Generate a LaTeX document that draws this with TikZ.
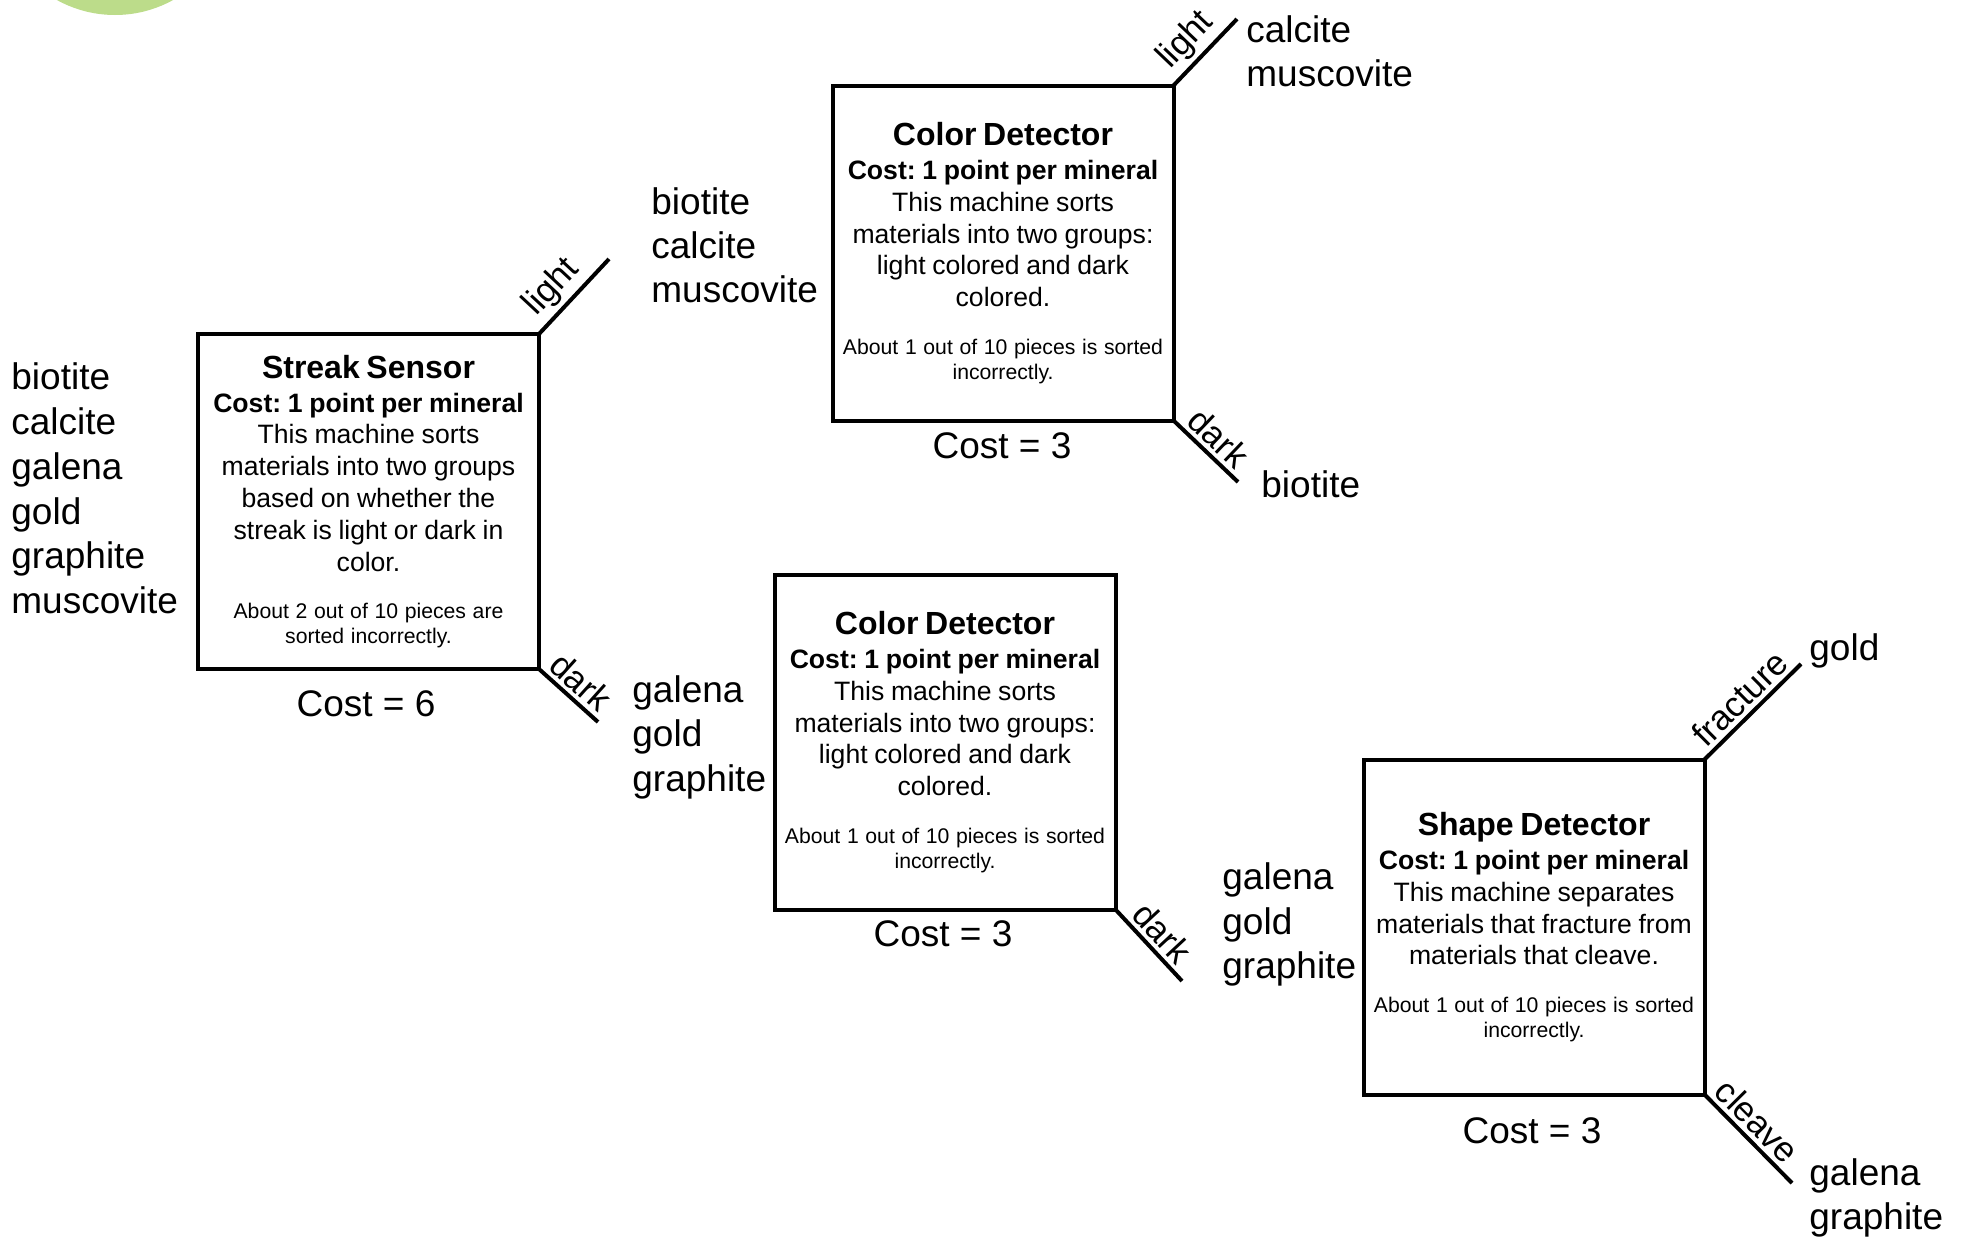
\documentclass[tikz,border=0pt]{standalone}
\usepackage{fontspec}
\setmainfont{Liberation Sans}
\frenchspacing
\definecolor{leaf}{RGB}{188,220,138}
\newcommand\mtitle{\fontsize{16}{19}\selectfont\bfseries}
\newcommand\mcost{\fontsize{13.3}{17}\selectfont\bfseries}
\newcommand\mbody{\fontsize{13.3}{15.9}\selectfont\mdseries}
\newcommand\msmall{\fontsize{10.6}{12.5}\selectfont\mdseries}
\begin{document}
\begin{tikzpicture}[x=0.5pt,y=-0.5pt,
  machine/.style={draw, line width=2pt, minimum width=170.5pt, minimum height=167.5pt,
    inner sep=0pt, outer sep=0pt, text width=170.5pt, align=center},
  branch/.style={line width=2pt},
  lbl/.style={sloped, above, inner sep=2pt, font=\fontsize{17.5}{20}\selectfont},
  item/.style={anchor=base west, inner sep=0pt, font=\fontsize{18.5}{22}\selectfont},
  costlbl/.style={anchor=base, inner sep=0pt, font=\fontsize{18.5}{22}\selectfont}]
\path[use as bounding box] (0,0) rectangle (1961,1237);
\fill[leaf] (115,-105) circle[radius=60pt];

% machines
\node[machine] (streak) at (368.5,501.5) {{\mtitle Streak Sensor\par}{\mcost Cost: 1 point per mineral\par}{\mbody This machine sorts\\ materials into two groups\\ based on whether the\\ streak is light or dark in\\ color.\par}\vspace{11.25pt}{\msmall About 2 out of 10 pieces are\\ sorted incorrectly.\par}};
\node[machine] (colortop) at (1003,253) {{\mtitle Color Detector\par}{\mcost Cost: 1 point per mineral\par}{\mbody This machine sorts\\ materials into two groups:\\ light colored and dark\\ colored.\par}\vspace{11.25pt}{\msmall About 1 out of 10 pieces is sorted\\ incorrectly.\par}};
\node[machine] (colormid) at (945,742) {{\mtitle Color Detector\par}{\mcost Cost: 1 point per mineral\par}{\mbody This machine sorts\\ materials into two groups:\\ light colored and dark\\ colored.\par}\vspace{11.25pt}{\msmall About 1 out of 10 pieces is sorted\\ incorrectly.\par}};
\node[machine] (shape) at (1534,927) {{\mtitle Shape Detector\par}{\mcost Cost: 1 point per mineral\par}{\mbody This machine separates\\ materials that fracture from\\ materials that cleave.\par}\vspace{11.25pt}{\msmall About 1 out of 10 pieces is sorted\\ incorrectly.\par}};

% cost labels
\node[costlbl] (cost1) at (366,716) {Cost = 6};
\node[costlbl] (cost2) at (1002,458) {Cost = 3};
\node[costlbl] (cost3) at (943,946) {Cost = 3};
\node[costlbl] (cost4) at (1532,1143) {Cost = 3};

% branch ends
\coordinate (sL) at (609,259);
\coordinate (sD) at (598,722);
\coordinate (tL) at (1237,19);
\coordinate (tD) at (1238,482);
\coordinate (mD) at (1182,981);
\coordinate (hF) at (1801,664);
\coordinate (hC) at (1792,1183);

\draw[branch] (streak.north east) -- node[lbl, pos=0.42] {light} (sL);
\draw[branch] (streak.south east) -- node[lbl, pos=0.5] {dark} (sD);
\draw[branch] (colortop.north east) -- node[lbl, pos=0.45] {light} (tL);
\draw[branch] (colortop.south east) -- node[lbl, pos=0.5] {dark} (tD);
\draw[branch] (colormid.south east) -- node[lbl, pos=0.5] {dark} (mD);
\draw[branch] (shape.north east) -- node[lbl, pos=0.5] {fracture} (hF);
\draw[branch] (shape.south east) -- node[lbl, pos=0.45] {cleave} (hC);

% mineral lists
\node[item] (a1) at (11,389) {biotite};
\node[item] (a2) at (11,434) {calcite};
\node[item] (a3) at (11,479) {galena};
\node[item] (a4) at (11,524) {gold};
\node[item] (a5) at (11,568) {graphite};
\node[item] (a6) at (11,613) {muscovite};

\node[item] (b1) at (651,214) {biotite};
\node[item] (b2) at (651,258) {calcite};
\node[item] (b3) at (651,302) {muscovite};

\node[item] (c1) at (632,702) {galena};
\node[item] (c2) at (632,746) {gold};
\node[item] (c3) at (632,791) {graphite};

\node[item] (d1) at (1246,42) {calcite};
\node[item] (d2) at (1246,86) {muscovite};

\node[item] (e1) at (1261,497) {biotite};

\node[item] (f1) at (1222,889) {galena};
\node[item] (f2) at (1222,934) {gold};
\node[item] (f3) at (1222,978) {graphite};

\node[item] (g1) at (1809,660) {gold};

\node[item] (h1) at (1809,1185) {galena};
\node[item] (h2) at (1809,1229) {graphite};
\end{tikzpicture}
\end{document}
